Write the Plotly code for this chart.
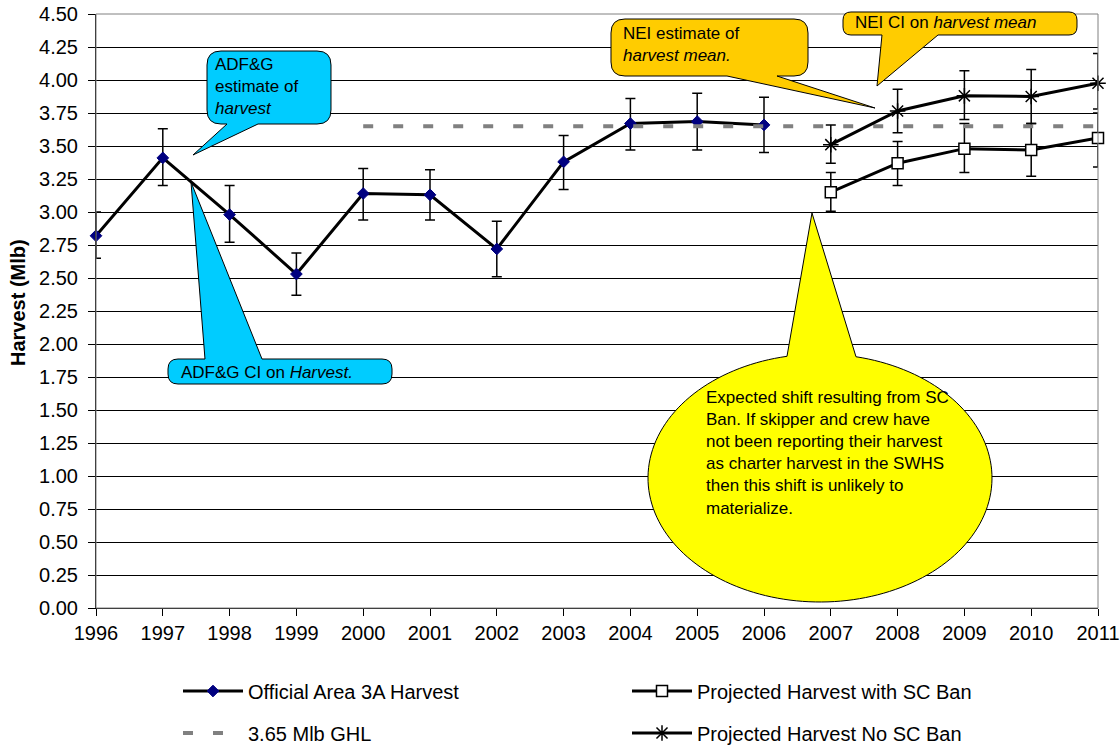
import numpy as np
import plotly.graph_objects as go

# ---- data -------------------------------------------------------------
years_hist = [1996, 1997, 1998, 1999, 2000, 2001, 2002, 2003, 2004, 2005, 2006]
official = [2.82, 3.41, 2.98, 2.53, 3.14, 3.13, 2.72, 3.38, 3.67, 3.685, 3.66]
official_hi = [3.00, 3.63, 3.20, 2.69, 3.33, 3.32, 2.93, 3.58, 3.86, 3.90, 3.87]
official_lo = [2.65, 3.20, 2.77, 2.37, 2.94, 2.94, 2.51, 3.17, 3.47, 3.47, 3.45]

years_proj = [2007, 2008, 2009, 2010, 2011]
sc_ban = [3.15, 3.37, 3.48, 3.47, 3.56]
sc_ban_hi = [3.30, 3.535, 3.67, 3.67, 3.75]
sc_ban_lo = [3.005, 3.20, 3.30, 3.27, 3.34]
no_ban = [3.51, 3.765, 3.88, 3.875, 3.975]
no_ban_hi = [3.66, 3.93, 4.07, 4.08, 4.20]
no_ban_lo = [3.37, 3.60, 3.70, 3.67, 3.78]

ghl_years = [2000, 2011]
ghl_value = [3.65, 3.65]

year_ticks = list(range(1996, 2012))
y_ticks = [i * 0.25 for i in range(19)]

# ---- page geometry (px) ------------------------------------------------
FIG_W, FIG_H = 1120, 746
L, R, T, B = 96, 22, 14, 138
PW, PH = FIG_W - L - R, FIG_H - T - B

FONT = "Liberation Sans, Arial, sans-serif"


def px_to_paper(px, py):
    return (px - L) / PW, 1 - (py - T) / PH


def pt(px, py):
    x, y = px_to_paper(px, py)
    return f"{x:.5f},{y:.5f}"


def err(vals, hi, lo):
    up = [h - v for h, v in zip(hi, vals)]
    dn = [v - l for v, l in zip(vals, lo)]
    return dict(type="data", array=up, arrayminus=dn, symmetric=False,
                color="black", thickness=1.5, width=5)


def bubble(x0, y0, x1, y1, r, edge, a, b, tip):
    """Rounded box with a pointed tail on its top or bottom edge."""
    p = [f"M{pt(x0 + r, y0)}"]
    if edge == "top":
        p += [f"L{pt(a, y0)}", f"L{pt(*tip)}", f"L{pt(b, y0)}"]
    p += [f"L{pt(x1 - r, y0)}", f"Q{pt(x1, y0)} {pt(x1, y0 + r)}",
          f"L{pt(x1, y1 - r)}", f"Q{pt(x1, y1)} {pt(x1 - r, y1)}"]
    if edge == "bottom":
        p += [f"L{pt(b, y1)}", f"L{pt(*tip)}", f"L{pt(a, y1)}"]
    p += [f"L{pt(x0 + r, y1)}", f"Q{pt(x0, y1)} {pt(x0, y1 - r)}",
          f"L{pt(x0, y0 + r)}", f"Q{pt(x0, y0)} {pt(x0 + r, y0)}", "Z"]
    return " ".join(p)


def oval_bubble(cx, cy, rx, ry, a, b, tip, n=160):
    """Ellipse with a pointed tail rising from its top."""
    ta = np.arccos((a - cx) / rx)
    tb = np.arccos((b - cx) / rx)
    ts = np.linspace(tb, ta - 2 * np.pi, n)
    p = [f"M{pt(*tip)}"]
    for t in ts:
        p.append(f"L{pt(cx + rx * np.cos(t), cy - ry * np.sin(t))}")
    p.append("Z")
    return " ".join(p)


fig = go.Figure()

fig.add_trace(go.Scatter(
    x=years_hist, y=official, name="Official Area 3A Harvest",
    mode="lines+markers", cliponaxis=False,
    line=dict(color="black", width=3),
    marker=dict(symbol="diamond", size=9, color="#000080",
                line=dict(color="#000080", width=1)),
    error_y=err(official, official_hi, official_lo),
    legend="legend",
))
fig.add_trace(go.Scatter(
    x=years_proj, y=sc_ban, name="Projected Harvest with SC Ban",
    mode="lines+markers", cliponaxis=False,
    line=dict(color="black", width=3),
    marker=dict(symbol="square", size=11, color="white",
                line=dict(color="black", width=1.5)),
    error_y=err(sc_ban, sc_ban_hi, sc_ban_lo),
    legend="legend",
))
fig.add_trace(go.Scatter(
    x=ghl_years, y=ghl_value, name="3.65 Mlb GHL",
    mode="lines", cliponaxis=False,
    line=dict(color="#808080", width=4, dash="10px,20px"),
    legend="legend2",
))
fig.add_trace(go.Scatter(
    x=years_proj, y=no_ban, name="Projected Harvest No SC Ban",
    mode="lines+markers", cliponaxis=False,
    line=dict(color="black", width=3),
    marker=dict(symbol="asterisk-open", size=13, color="black",
                line=dict(color="black", width=1.5)),
    error_y=err(no_ban, no_ban_hi, no_ban_lo),
    legend="legend2",
))

# ---- call-out shapes ---------------------------------------------------
CYAN, GOLD, YELLOW = "#00CCFF", "#FFCC00", "#FFFF00"
shapes = [
    # plot-area frame
    dict(type="rect", xref="paper", yref="paper", x0=0, y0=0, x1=1, y1=1,
         line=dict(color="#808080", width=1), layer="above"),
    dict(type="path", xref="paper", yref="paper", fillcolor=CYAN,
         line=dict(color="black", width=1),
         path=bubble(207, 51, 331, 124, 14, "bottom", 227, 258, (193, 155))),
    dict(type="path", xref="paper", yref="paper", fillcolor=CYAN,
         line=dict(color="black", width=1),
         path=bubble(168, 359, 392, 384, 10, "top", 205, 262, (191, 182))),
    dict(type="path", xref="paper", yref="paper", fillcolor=GOLD,
         line=dict(color="black", width=1),
         path=bubble(611, 19, 808, 76, 14, "bottom", 727, 777, (875, 108))),
    dict(type="path", xref="paper", yref="paper", fillcolor=GOLD,
         line=dict(color="black", width=1),
         path=bubble(843, 12, 1077, 35, 8, "bottom", 882, 938, (877, 86))),
    dict(type="path", xref="paper", yref="paper", fillcolor=YELLOW,
         line=dict(color="black", width=1),
         path=oval_bubble(820, 478, 172, 124, 787, 856, (812, 213))),
]


def note(px, py, text):
    x, y = px_to_paper(px, py)
    return dict(xref="paper", yref="paper", x=x, y=y, text=text,
                showarrow=False, xanchor="left", yanchor="middle",
                align="left", font=dict(family=FONT, size=17, color="black"))


annotations = [
    note(213, 86, "ADF&amp;G<br>estimate of<br><i>harvest</i>"),
    note(179, 372, "ADF&amp;G CI on <i>Harvest.</i>"),
    note(621, 44, "NEI estimate of<br><i>harvest mean.</i>"),
    note(853, 23, "NEI CI on <i>harvest mean</i>"),
    note(704, 453, "Expected shift resulting from SC<br>"
                   "Ban. If skipper and crew have<br>"
                   "not been reporting their harvest<br>"
                   "as charter harvest in the SWHS<br>"
                   "then this shift is unlikely to<br>"
                   "materialize."),
]
tx, ty = px_to_paper(18, 303)
annotations.append(dict(
    xref="paper", yref="paper", x=tx, y=ty, text="<b>Harvest (Mlb)</b>",
    textangle=-90, showarrow=False, xanchor="center", yanchor="middle",
    font=dict(family=FONT, size=20, color="black")))

legend_common = dict(
    orientation="h", xref="container", yref="container",
    xanchor="left", yanchor="middle", itemwidth=60, entrywidth=374,
    font=dict(family=FONT, size=20, color="black"),
    bgcolor="rgba(0,0,0,0)", borderwidth=0, tracegroupgap=0,
)

fig.update_layout(
    width=FIG_W, height=FIG_H,
    margin=dict(l=L, r=R, t=T, b=B, autoexpand=False),
    paper_bgcolor="white", plot_bgcolor="white",
    font=dict(family=FONT, size=20, color="black"),
    showlegend=True,
    legend=dict(x=178 / FIG_W, y=1 - 691 / FIG_H, **legend_common),
    legend2=dict(x=178 / FIG_W, y=1 - 733 / FIG_H, **legend_common),
    xaxis=dict(
        range=[1996, 2011], tickmode="array", tickvals=year_ticks,
        ticktext=[str(v) for v in year_ticks],
        showgrid=False, zeroline=False, showline=True,
        linecolor="black", linewidth=1,
        ticks="outside", ticklen=7, tickcolor="black", tickwidth=1,
        tickfont=dict(family=FONT, size=20, color="black"),
    ),
    yaxis=dict(
        range=[0, 4.5], tickmode="array", tickvals=y_ticks,
        ticktext=[f"{v:.2f}" for v in y_ticks],
        showgrid=True, gridcolor="black", gridwidth=1,
        zeroline=False, showline=True, linecolor="black", linewidth=1,
        ticks="outside", ticklen=7, tickcolor="black", tickwidth=1,
        ticklabelstandoff=6,
        tickfont=dict(family=FONT, size=20, color="black"),
    ),
    shapes=shapes,
    annotations=annotations,
)

fig.write_html("out.html")
